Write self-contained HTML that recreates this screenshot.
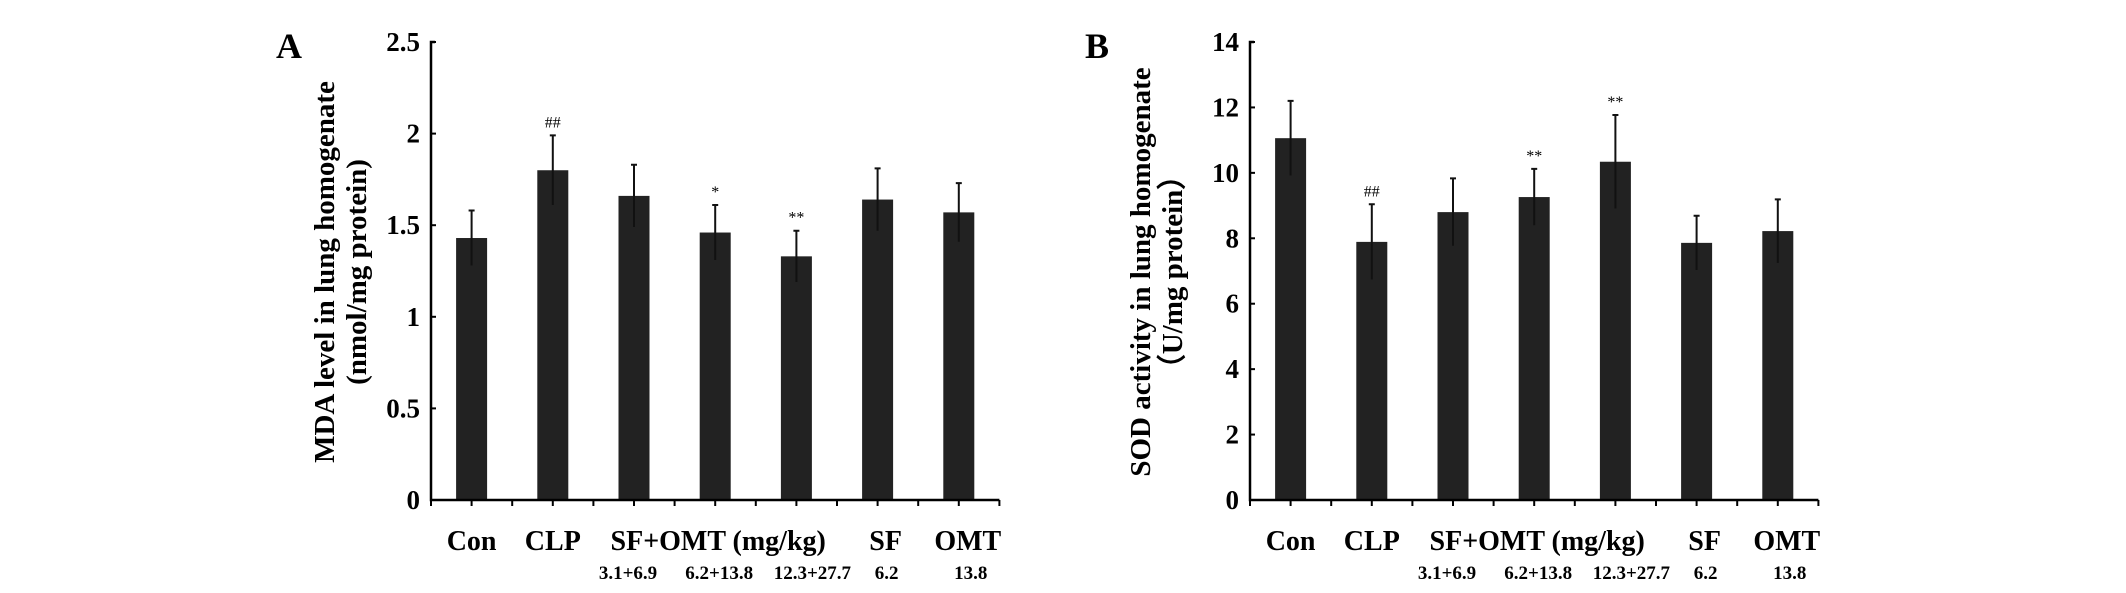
<!DOCTYPE html>
<html><head><meta charset="utf-8"><style>
html,body{margin:0;padding:0;background:#fff;}
svg{display:block;font-family:"Liberation Serif",serif;font-weight:bold;}
</style></head><body>
<svg id="fig" width="2126" height="593" viewBox="0 0 2126 593"></svg>
<script>
const categories = ["Con","CLP","SF+OMT 1","SF+OMT 2","SF+OMT 3","SF","OMT"];
const mdaValues = [1.43,1.80,1.66,1.46,1.33,1.64,1.57];
const mdaErrors = [0.15,0.19,0.17,0.15,0.14,0.17,0.16];
const mdaMarks = ["","##","","*","**","",""];
const mdaTicks = [0,0.5,1,1.5,2,2.5];
const sodValues = [11.06,7.89,8.80,9.26,10.34,7.86,8.22];
const sodErrors = [1.14,1.15,1.03,0.86,1.43,0.83,0.97];
const sodMarks = ["","##","","**","**","",""];
const sodTicks = [0,2,4,6,8,10,12,14];

const NS="http://www.w3.org/2000/svg";
const svg=document.getElementById('fig');
function mk(tag,attrs,parent){const e=document.createElementNS(NS,tag);for(const k in attrs)e.setAttribute(k,attrs[k]);(parent||svg).appendChild(e);return e;}

function panel(o){
  const g=mk('g',{});
  
  
  const x0=o.x0, y0=500, yTop=42, cw=81.2, n=categories.length, xEnd=x0+cw*n;
  const yMax=o.ticks[o.ticks.length-1];
  const ys=v=>y0-(v/yMax)*(y0-yTop);
  const xc=i=>x0+cw*(i+0.5);
  const L=mk('text',{x:o.lx,y:58,'font-size':36},g);L.textContent=o.letter;
  
  
  for(let i=0;i<n;i++){
    const v=o.values[i],e=o.errors[i];
    const b=mk('rect',{x:xc(i)-15.5,y:ys(v),width:31,height:y0-ys(v),fill:'#222'},g);
    
    
    const eb=mk('path',{d:`M${xc(i)},${ys(v-e)}V${ys(v+e)}M${xc(i)-3},${ys(v+e)}H${xc(i)+3}`,stroke:'#111','stroke-width':2,fill:'none'},g);
    
    
    if(o.marks[i]){
      const m=mk('text',{x:xc(i),y:ys(v+e)-8,'font-size':16,'text-anchor':'middle','font-weight':'normal'},g);
      m.textContent=o.marks[i];
      
      
    }
  }
  const ax=mk('path',{d:`M${x0+4},${yTop}H${x0}V${y0}H${xEnd}`,stroke:'#000','stroke-width':2.5,fill:'none'},g);
  
  
  for(let k=0;k<=2*n;k++){
    const tx=x0+cw*k/2;
    mk('line',{x1:tx,x2:tx,y1:y0,y2:y0+6,stroke:'#000','stroke-width':2},g);
  }
  o.ticks.forEach(t=>{
    mk('line',{x1:x0,x2:x0+5,y1:ys(t),y2:ys(t),stroke:'#000','stroke-width':2},g);
    const tl=mk('text',{x:x0-11,y:ys(t)+9,'font-size':27,'text-anchor':'end'},g);
    tl.textContent=t;
    
    
  });
  const labs=[["Con",0,0],["CLP",1,0],["SF+OMT (mg/kg)",3,3],["SF",5,8],["OMT",6,9]];
  labs.forEach(l=>{
    const t=mk('text',{x:xc(l[1])+l[2],y:550,'font-size':28,'text-anchor':'middle'},g);
    t.textContent=l[0];
    
    
  });
  const subs=[["3.1+6.9",2,-6],["6.2+13.8",3,4],["12.3+27.7",4,16],["6.2",5,9],["13.8",6,12]];
  subs.forEach(l=>{
    const t=mk('text',{x:xc(l[1])+l[2],y:579,'font-size':19,'text-anchor':'middle'},g);
    t.textContent=l[0];
    
    
  });
  const tt=mk('text',{transform:`translate(${o.tx},272) rotate(-90)`,'font-size':29,'text-anchor':'middle'},g);
  
  
  const s1=mk('tspan',{x:0,y:0},tt);s1.textContent=o.t1;
  const s2=mk('tspan',{x:0,y:32},tt);s2.textContent=o.t2;
}
panel({name:'mda-chart',letter:'A',lx:276,x0:431,values:mdaValues,errors:mdaErrors,marks:mdaMarks,ticks:mdaTicks,tx:334,t1:'MDA level in lung homogenate',t2:'(nmol/mg protein)'});
panel({name:'sod-chart',letter:'B',lx:1085,x0:1250,values:sodValues,errors:sodErrors,marks:sodMarks,ticks:sodTicks,tx:1150,t1:'SOD activity in lung homogenate',t2:'（U/mg protein）'});
</script>
</body></html>
